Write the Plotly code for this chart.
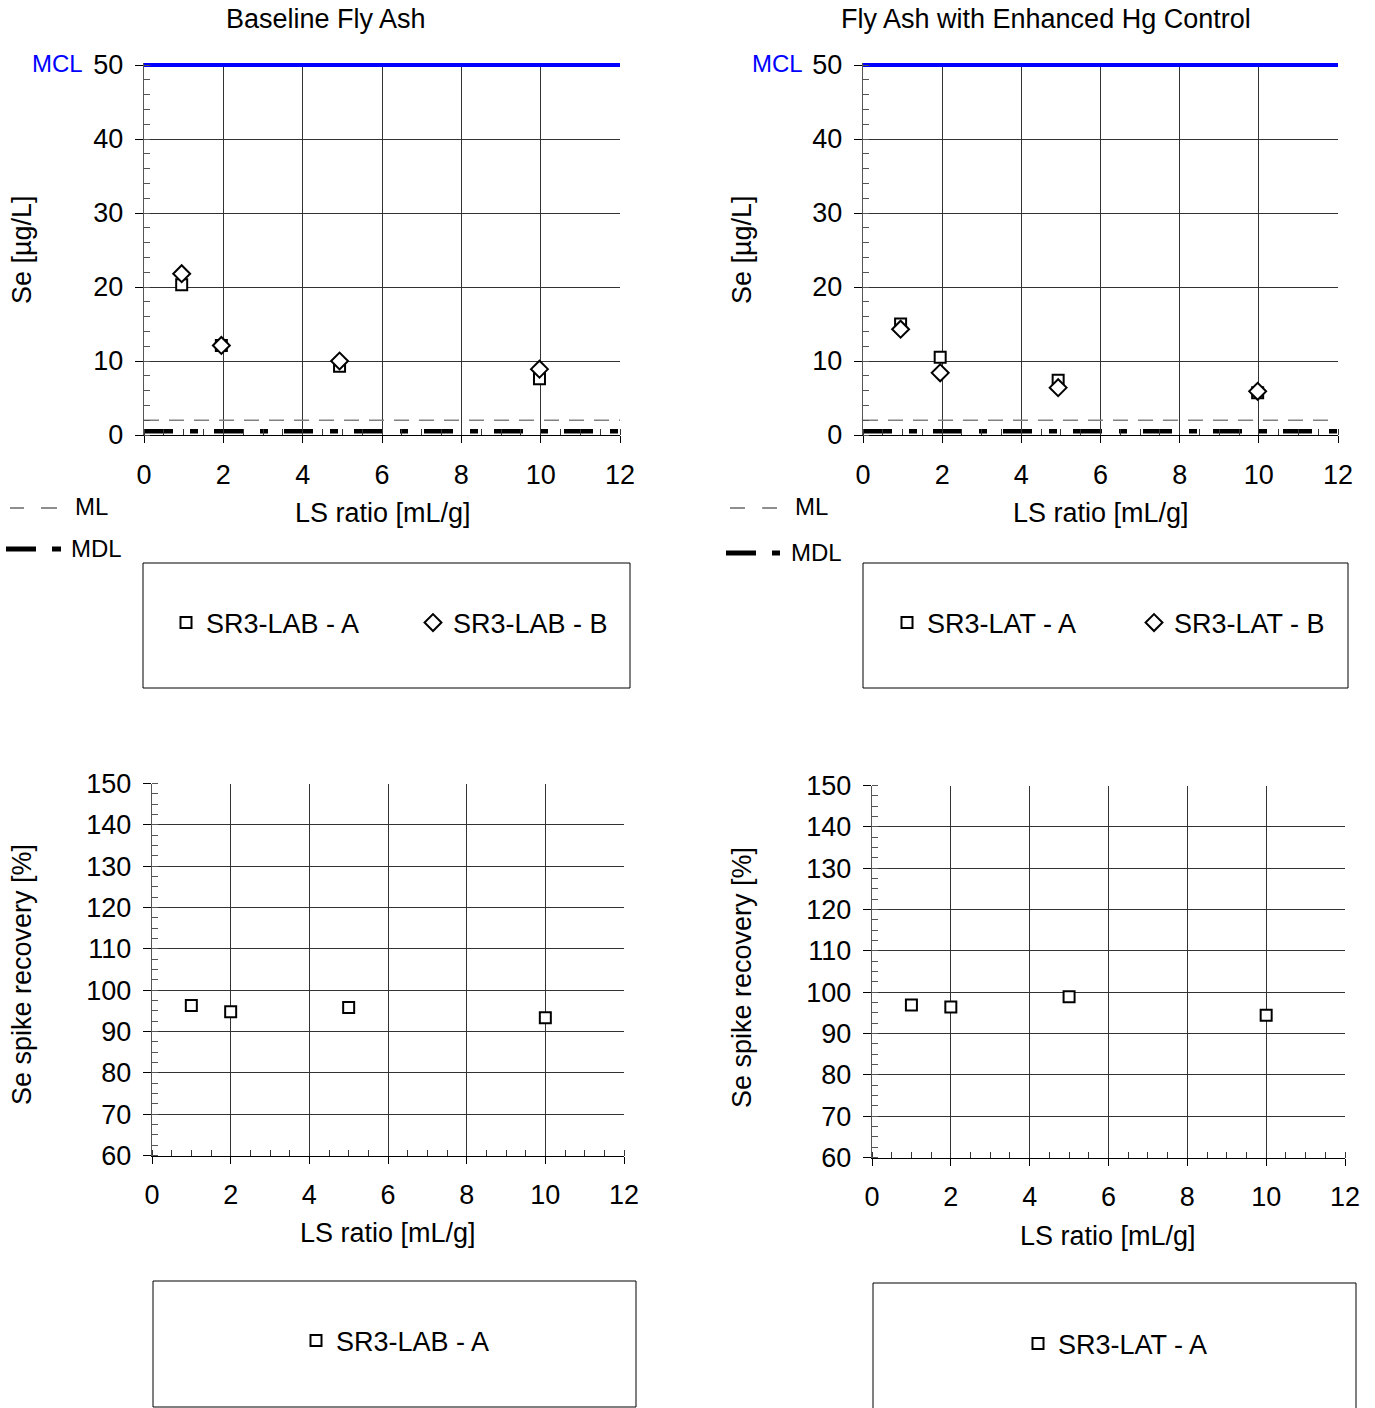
import plotly.graph_objects as go

W, H = 1375, 1408
FONT = "Liberation Sans, Arial, sans-serif"
FS = 27

# ---------------- data ----------------
ls_top = [0.95, 1.95, 4.93, 9.97]
se_lab_a = [20.3, 12.1, 9.3, 7.6]
se_lab_b = [21.8, 12.1, 10.0, 8.9]
se_lat_a = [15.0, 10.5, 7.4, 5.7]
se_lat_b = [14.3, 8.4, 6.4, 5.9]

ls_bot = [1, 2, 5, 10]
rec_lab_a = [96.3, 94.8, 95.8, 93.3]
rec_lat_a = [96.9, 96.4, 98.9, 94.4]

ls_range = [0, 12]
se_range = [0, 50.3]
rec_range = [60, 150]
mcl = 50
ml = 2
mdl = 0.5

titles = ["Baseline Fly Ash", "Fly Ash with Enhanced Hg Control"]
names_left = ["SR3-LAB - A", "SR3-LAB - B"]
names_right = ["SR3-LAT - A", "SR3-LAT - B"]


def xd(a, b):
    return [a / W, b / W]


def yd(top, bottom):
    return [1 - bottom / H, 1 - top / H]


def px(x):
    return x / W


def py(y):
    return 1 - y / H


fig = go.Figure()

mk_sq = dict(symbol="square", size=11, color="white", line=dict(color="black", width=2))
mk_di = dict(symbol="diamond", size=13, color="white", line=dict(color="black", width=2))

panels = [
    ("x", "y", se_lab_a, se_lab_b, names_left, "legend"),
    ("x2", "y2", se_lat_a, se_lat_b, names_right, "legend2"),
]
for xa, ya, a, b, nm, lg in panels:
    fig.add_trace(go.Scatter(x=ls_range, y=[mcl, mcl], mode="lines", xaxis=xa, yaxis=ya,
                             line=dict(color="#0000FF", width=4), showlegend=False, hoverinfo="skip"))
    fig.add_trace(go.Scatter(x=ls_range, y=[ml, ml], mode="lines", xaxis=xa, yaxis=ya,
                             line=dict(color="#808080", width=1.5, dash="15px,10px"), showlegend=False, hoverinfo="skip"))
    fig.add_trace(go.Scatter(x=ls_range, y=[mdl, mdl], mode="lines", xaxis=xa, yaxis=ya,
                             line=dict(color="black", width=4.5, dash="29px,17px,8px,16px"), showlegend=False, hoverinfo="skip"))
    fig.add_trace(go.Scatter(x=ls_top, y=a, mode="markers", name=nm[0], xaxis=xa, yaxis=ya,
                             marker=mk_sq, legend=lg))
    fig.add_trace(go.Scatter(x=ls_top, y=b, mode="markers", name=nm[1], xaxis=xa, yaxis=ya,
                             marker=mk_di, legend=lg))

fig.add_trace(go.Scatter(x=ls_bot, y=rec_lab_a, mode="markers", name=names_left[0], xaxis="x3", yaxis="y3",
                         marker=mk_sq, legend="legend3"))
fig.add_trace(go.Scatter(x=ls_bot, y=rec_lat_a, mode="markers", name=names_right[0], xaxis="x4", yaxis="y4",
                         marker=mk_sq, legend="legend4"))

tickfont = dict(family=FONT, size=FS, color="black")


def xaxis(dom, anchor):
    return dict(domain=dom, anchor=anchor, range=ls_range, tick0=0, dtick=2,
                showgrid=True, gridcolor="#333333", gridwidth=1,
                showline=True, linecolor="black", linewidth=1.2,
                ticks="outside", ticklen=7, tickcolor="black", tickwidth=1,
                minor=dict(dtick=0.5, tick0=0, ticks="inside", ticklen=6, tickcolor="#333", showgrid=False),
                tickfont=tickfont, ticklabelstandoff=8, zeroline=False, fixedrange=True)


def yaxis(dom, anchor, rng, dtick, mdt):
    return dict(domain=dom, anchor=anchor, range=rng, tick0=rng[0], dtick=dtick,
                showgrid=True, gridcolor="#333333", gridwidth=1,
                showline=True, linecolor="#555555", linewidth=1.2,
                ticks="outside", ticklen=8, tickcolor="black", tickwidth=1,
                minor=dict(dtick=mdt, tick0=rng[0], ticks="inside", ticklen=6, tickcolor="#555", showgrid=False),
                tickfont=tickfont, ticklabelstandoff=6, zeroline=False, fixedrange=True)


leg_common = dict(orientation="h", bgcolor="rgba(0,0,0,0)", borderwidth=0,
                  font=dict(family=FONT, size=FS, color="black"),
                  xanchor="left", yanchor="middle", entrywidthmode="pixels", entrywidth=202,
                  itemclick=False, itemdoubleclick=False)

top_px = 65 - 0.3 * 7.4
fig.update_layout(
    width=W, height=H,
    margin=dict(l=0, r=0, t=0, b=0, autoexpand=False),
    paper_bgcolor="white", plot_bgcolor="white",
    font=dict(family=FONT, size=FS, color="black"),
    xaxis=xaxis(xd(144, 620), "y"),
    yaxis=yaxis(yd(top_px, 435), "x", se_range, 10, 2),
    xaxis2=xaxis(xd(863, 1338), "y2"),
    yaxis2=yaxis(yd(top_px, 435), "x2", se_range, 10, 2),
    xaxis3=xaxis(xd(152, 624), "y3"),
    yaxis3=yaxis(yd(783.5, 1155.5), "x3", rec_range, 10, 2.5),
    xaxis4=xaxis(xd(872, 1345), "y4"),
    yaxis4=yaxis(yd(785.5, 1157.5), "x4", rec_range, 10, 2.5),
    legend=dict(leg_common, x=px(166), y=py(623)),
    legend2=dict(leg_common, x=px(887), y=py(623)),
    legend3=dict(leg_common, x=px(296), y=py(1341)),
    legend4=dict(leg_common, x=px(1018), y=py(1344)),
    showlegend=True,
)

ann = []


def text(x, y, s, color="black", angle=0, xanchor="center", size=FS):
    ann.append(dict(x=px(x), y=py(y), xref="paper", yref="paper", text=s, showarrow=False,
                    font=dict(family=FONT, size=size, color=color), textangle=angle,
                    xanchor=xanchor, yanchor="middle"))


text(326, 19, titles[0])
text(1046, 19, titles[1])
text(57, 63, "MCL", color="#0000FF", size=24)
text(777, 63, "MCL", color="#0000FF", size=24)
text(22, 250, "Se [µg/L]", angle=-90)
text(742, 250, "Se [µg/L]", angle=-90)
text(22, 975, "Se spike recovery [%]", angle=-90)
text(742, 978, "Se spike recovery [%]", angle=-90)
text(383, 513, "LS ratio [mL/g]")
text(1101, 513, "LS ratio [mL/g]")
text(388, 1233, "LS ratio [mL/g]")
text(1108, 1236, "LS ratio [mL/g]")
text(73, 506, "ML", xanchor="left", size=24)
text(69, 548, "MDL", xanchor="left", size=24)
text(793, 506, "ML", xanchor="left", size=24)
text(789, 552, "MDL", xanchor="left", size=24)
fig.update_layout(annotations=ann)

shapes = []


def box(x0, y0, x1, y1):
    shapes.append(dict(type="rect", xref="paper", yref="paper", x0=px(x0), x1=px(x1),
                       y0=py(y1), y1=py(y0), line=dict(color="black", width=1)))


def seg(x0, x1, y, color, width):
    shapes.append(dict(type="line", xref="paper", yref="paper", x0=px(x0), x1=px(x1),
                       y0=py(y), y1=py(y), line=dict(color=color, width=width)))


box(143, 563, 630, 688)
box(863, 563, 1348, 688)
box(153, 1281, 636, 1407)
box(873, 1283, 1356, 1420)
# ML / MDL keys
seg(10, 24, 508, "#444", 1.2)
seg(41, 57, 508, "#444", 1.2)
seg(6, 36, 549, "black", 5)
seg(52, 61, 549, "black", 5)
seg(730, 745, 508, "#444", 1.2)
seg(762, 777, 508, "#444", 1.2)
seg(726, 756, 553, "black", 5)
seg(772, 780, 553, "black", 5)
fig.update_layout(shapes=shapes)

fig.write_html("out.html", config={"displayModeBar": False, "staticPlot": True},
               post_script="document.body.style.margin='0px';document.body.style.padding='0px';"
                           "document.documentElement.style.overflow='hidden';")
